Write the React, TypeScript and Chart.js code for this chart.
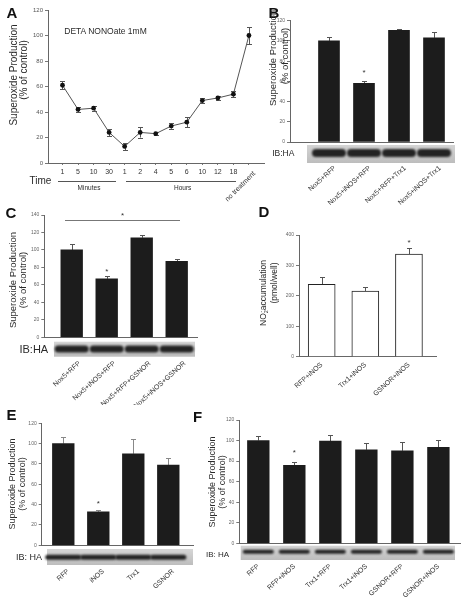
import React, { useEffect, useRef } from 'react';
import { Chart, registerables } from 'chart.js';

Chart.register(...registerables);

const FONT = 'Arial, "Liberation Sans", Helvetica, sans-serif';
Chart.defaults.font.family = FONT;

// ---------------- data ----------------
// Panel A
const timeLabels = ['1', '5', '10', '30', '1', '2', '4', '5', '6', '10', '12', '18', 'no treatment'];
const timeValues = [61, 42, 43, 24, 13, 24, 23, 29, 32, 49, 51, 54, 100];
const timeErrors = [3, 2, 2, 3, 3, 4, 1, 2, 4, 2, 1.5, 2.5, 7];

// Panel B
const bLabels = ['Nox5+RFP', 'Nox5+iNOS+RFP', 'Nox5+RFP+Trx1', 'Nox5+iNOS+Trx1'];
const bValues = [100, 58, 110.5, 103];
const bErrors = [3.5, 2, 1, 5.5];
const bSig = [false, true, false, false];

// Panel C
const cLabels = ['Nox5+RFP', 'Nox5+iNOS+RFP', 'Nox5+RFP+GSNOR', 'Nox5+iNOS+GSNOR'];
const cValues = [100, 67, 114, 87];
const cErrors = [7, 3, 3, 3];
const cSig = [false, true, false, false];

// Panel D
const dLabels = ['RFP+iNOS', 'Trx1+iNOS', 'GSNOR+iNOS'];
const dValues = [238, 216, 337];
const dErrors = [23, 13, 20];
const dSig = [false, false, true];

// Panel E
const eLabels = ['RFP', 'iNOS', 'Trx1', 'GSNOR'];
const eValues = [100, 33, 90, 79];
const eErrors = [6.5, 2, 15, 7];
const eSig = [false, true, false, false];

// Panel F
const fLabels = ['RFP', 'RFP+iNOS', 'Trx1+RFP', 'Trx1+iNOS', 'GSNOR+RFP', 'GSNOR+iNOS'];
const fValues = [100, 76, 99.5, 91, 90, 93.5];
const fErrors = [4, 3, 6, 7, 9, 7.5];
const fSig = [false, true, false, false, false, false];

// ---------------- helpers ----------------
function drawErrors(chart: any, values: number[], errors: number[], both: boolean, color: string, cap: number) {
  const ctx = chart.ctx;
  const ys = chart.scales.y;
  const meta = chart.getDatasetMeta(0);
  ctx.save();
  ctx.strokeStyle = color;
  ctx.lineWidth = 1;
  meta.data.forEach((el: any, i: number) => {
    const x = Math.round(el.x) + 0.5;
    const yT = Math.round(ys.getPixelForValue(values[i] + errors[i])) + 0.5;
    const yB = ys.getPixelForValue(both ? values[i] - errors[i] : values[i]);
    ctx.beginPath();
    ctx.moveTo(x, yT);
    ctx.lineTo(x, yB);
    ctx.moveTo(x - cap, yT);
    ctx.lineTo(x + cap, yT);
    if (both) {
      const yb = Math.round(yB) + 0.5;
      ctx.moveTo(x - cap, yb);
      ctx.lineTo(x + cap, yb);
    }
    ctx.stroke();
  });
  ctx.restore();
}

interface Blot { dxL: number; dxR: number; y0: number; y1: number; band: number; bandH: number; laneW: number; bg: string }
interface Bracket { from: number; to: number; value: number; dl: number; dr: number }
interface BarCfg {
  labels: string[]; values: number[]; errors: number[]; sig: boolean[];
  yMax: number; yStep: number; xMin: number; xMax: number;
  barW: number; fill: string; border?: string; borderW?: number;
  yW: number; xH: number; padTop: number; padRight: number;
  labelPad: number; labelOff: number; rot: number; errColor: string; sigGap: number;
  blot?: Blot; bracket?: Bracket;
}

function barConfig(c: BarCfg): any {
  const plugin = {
    id: 'decor',
    beforeDatasetsDraw(chart: any) {
      drawErrors(chart, c.values, c.errors, false, c.errColor, 2.5);
    },
    afterDraw(chart: any) {
      const ctx = chart.ctx;
      const ys = chart.scales.y;
      const xs = chart.scales.x;
      const ca = chart.chartArea;
      ctx.save();
      ctx.fillStyle = '#333';
      ctx.font = `8px ${FONT}`;
      ctx.textAlign = 'center';
      ctx.textBaseline = 'middle';
      c.sig.forEach((s, i) => {
        if (s) ctx.fillText('*', xs.getPixelForValue(i), ys.getPixelForValue(c.values[i] + c.errors[i]) - c.sigGap);
      });
      if (c.bracket) {
        const b = c.bracket;
        const y = Math.round(ys.getPixelForValue(b.value)) + 0.5;
        const x0 = xs.getPixelForValue(b.from) + b.dl;
        const x1 = xs.getPixelForValue(b.to) + b.dr;
        ctx.strokeStyle = '#777';
        ctx.lineWidth = 1;
        ctx.beginPath();
        ctx.moveTo(x0, y);
        ctx.lineTo(x1, y);
        ctx.stroke();
        ctx.fillText('*', (x0 + x1) / 2, y - 5);
      }
      if (c.blot) {
        const b = c.blot;
        const x0 = ca.left + b.dxL;
        const x1 = ca.right + b.dxR;
        const y0 = ca.bottom + b.y0;
        const y1 = ca.bottom + b.y1;
        const g = ctx.createLinearGradient(0, y0, 0, y1);
        g.addColorStop(0, b.bg);
        g.addColorStop(1, '#bdbdbd');
        ctx.fillStyle = g;
        ctx.fillRect(x0, y0, x1 - x0, y1 - y0);
        ctx.filter = 'blur(0.8px)';
        ctx.fillStyle = '#232323';
        const meta = chart.getDatasetMeta(0);
        meta.data.forEach((el: any) => {
          const w = b.laneW;
          ctx.beginPath();
          ctx.roundRect(el.x - w / 2, ca.bottom + b.band - b.bandH / 2, w, b.bandH, b.bandH / 2);
          ctx.fill();
        });
        ctx.filter = 'none';
      }
      ctx.restore();
    },
  };
  return {
    type: 'bar',
    data: {
      datasets: [{
        data: c.values.map((v, i) => ({ x: i, y: v })),
        backgroundColor: c.fill,
        borderColor: c.border || c.fill,
        borderWidth: c.borderW || 0,
        barThickness: c.barW,
      }],
    },
    options: {
      responsive: false,
      animation: false,
      layout: { padding: { top: c.padTop, right: c.padRight, left: 0, bottom: 0 } },
      plugins: { legend: { display: false }, tooltip: { enabled: false } },
      scales: {
        x: {
          type: 'linear', min: c.xMin, max: c.xMax, offset: false, bounds: 'data',
          afterBuildTicks: (s: any) => { s.ticks = c.labels.map((_, i) => ({ value: i })); },
          afterFit: (s: any) => { s.height = c.xH; s.paddingLeft = 0; s.paddingRight = 0; },
          ticks: {
            autoSkip: false, minRotation: c.rot, maxRotation: c.rot, padding: c.labelPad,
            labelOffset: c.labelOff,
            color: '#333', font: { size: 7, family: FONT },
            callback: (v: any) => c.labels[v] ?? '',
          },
          grid: { display: true, drawOnChartArea: false, drawTicks: false, offset: false },
          border: { display: true, color: '#666', width: 1 },
        },
        y: {
          min: 0, max: c.yMax,
          ticks: { stepSize: c.yStep, font: { size: 5, family: FONT }, color: '#666', padding: 2 },
          grid: { drawOnChartArea: false, tickLength: 3, color: '#777' },
          border: { color: '#666' },
          afterFit: (s: any) => { s.width = c.yW; s.paddingTop = 0; s.paddingBottom = 0; },
        },
      },
    },
    plugins: [plugin],
  };
}

function configA(): any {
  const plugin = {
    id: 'errA',
    beforeDatasetsDraw(chart: any) {
      drawErrors(chart, timeValues, timeErrors, true, '#555', 2.5);
    },
  };
  return {
    type: 'line',
    data: {
      datasets: [{
        data: timeValues.map((v, i) => ({ x: i, y: v })),
        borderColor: '#555', borderWidth: 1,
        pointRadius: 2.4, pointBackgroundColor: '#111', pointBorderColor: '#111', pointBorderWidth: 0,
        tension: 0,
      }],
    },
    options: {
      responsive: false,
      animation: false,
      layout: { padding: { top: 10, right: 1, left: 0, bottom: 0 } },
      plugins: { legend: { display: false }, tooltip: { enabled: false } },
      scales: {
        x: {
          type: 'linear', min: -0.933, max: 12.97, offset: false, bounds: 'data',
          afterBuildTicks: (s: any) => { s.ticks = timeLabels.map((_, i) => ({ value: i })); },
          afterFit: (s: any) => { s.height = 47; s.paddingLeft = 0; s.paddingRight = 0; },
          ticks: {
            autoSkip: false, minRotation: 0, maxRotation: 0, padding: 3,
            color: '#333', font: { size: 7, family: FONT },
            callback: (v: any) => (v < timeLabels.length - 1 ? timeLabels[v] : ''),
          },
          grid: { drawOnChartArea: false, tickLength: 2, color: '#777' },
          border: { color: '#666' },
        },
        y: {
          min: 0, max: 120,
          ticks: { stepSize: 20, font: { size: 6, family: FONT }, color: '#555', padding: 2 },
          grid: { drawOnChartArea: false, tickLength: 3, color: '#777' },
          border: { color: '#666' },
          afterFit: (s: any) => { s.width = 48; s.paddingTop = 0; s.paddingBottom = 0; },
        },
      },
    },
    plugins: [plugin],
  };
}

function ChartBox({ left, top, width, height, make }: { left: number; top: number; width: number; height: number; make: () => any }) {
  const ref = useRef<HTMLCanvasElement | null>(null);
  useEffect(() => {
    const chart = new Chart(ref.current as HTMLCanvasElement, make());
    return () => chart.destroy();
  }, []);
  return <canvas ref={ref} width={width} height={height} style={{ position: 'absolute', left, top, width, height }} />;
}

function T({ x, y, s, t, b, r, c }: { x: number; y: number; s: number; t: React.ReactNode; b?: boolean; r?: number; c?: string }) {
  return (
    <div style={{
      position: 'absolute', left: x, top: y, fontSize: s, fontWeight: b ? 700 : 400, color: c || '#2a2a2a',
      lineHeight: 1, whiteSpace: 'nowrap', fontFamily: FONT,
      transform: `translate(-50%,-50%) rotate(${r || 0}deg)`,
    }}>{t}</div>
  );
}

const cfgB: BarCfg = {
  labels: bLabels, values: bValues, errors: bErrors, sig: bSig,
  yMax: 120, yStep: 20, xMin: -1.114, xMax: 3.543, barW: 21, fill: '#1c1c1c',
  yW: 22, xH: 68, padTop: 20.7, padRight: 9, labelPad: 22, labelOff: 6, rot: 42, errColor: '#555', sigGap: 9,
  blot: { dxL: 17, dxR: 2, y0: 3, y1: 21, band: 11, bandH: 8, laneW: 34, bg: '#d4d4d4' },
};
const cfgC: BarCfg = {
  labels: cLabels, values: cValues, errors: cErrors, sig: cSig,
  yMax: 140, yStep: 20, xMin: -0.783, xMax: 3.58, barW: 21.7, fill: '#1c1c1c',
  yW: 44.3, xH: 67.7, padTop: 10, padRight: 43, labelPad: 22, labelOff: 8, rot: 42, errColor: '#555', sigGap: 4.5,
  blot: { dxL: 9.7, dxR: -2, y0: 4.4, y1: 19.4, band: 11.7, bandH: 7, laneW: 34, bg: '#d6d6d6' },
  bracket: { from: 0, to: 3, value: 134.7, dl: -6.7, dr: 3.3 },
};
const cfgD: BarCfg = {
  labels: dLabels, values: dValues, errors: dErrors, sig: dSig,
  yMax: 400, yStep: 100, xMin: -0.52, xMax: 2.62, barW: 27, fill: '#ffffff', border: '#222', borderW: 1,
  yW: 59, xH: 48.3, padTop: 30, padRight: 26, labelPad: 4, labelOff: 0, rot: 42, errColor: '#555', sigGap: 5,
};
const cfgE: BarCfg = {
  labels: eLabels, values: eValues, errors: eErrors, sig: eSig,
  yMax: 120, yStep: 20, xMin: -0.617, xMax: 3.706, barW: 21.7, fill: '#1c1c1c',
  yW: 41.7, xH: 54.7, padTop: 18.3, padRight: 7, labelPad: 22, labelOff: 5, rot: 42, errColor: '#888', sigGap: 5.5,
  blot: { dxL: 5.3, dxR: 0, y0: 3.7, y1: 19.7, band: 12, bandH: 5, laneW: 36, bg: '#d6d6d6' },
};
const cfgF: BarCfg = {
  labels: fLabels, values: fValues, errors: fErrors, sig: fSig,
  yMax: 120, yStep: 20, xMin: -0.528, xMax: 5.6, barW: 21.7, fill: '#1c1c1c',
  yW: 39.3, xH: 56.7, padTop: 15, padRight: 2, labelPad: 19, labelOff: 0, rot: 42, errColor: '#555', sigGap: 9.5,
  blot: { dxL: 1.4, dxR: -5, y0: 2.4, y1: 16.7, band: 8.4, bandH: 4, laneW: 31, bg: '#d4d4d4' },
};

const NO2 = (
  <>NO<span style={{ display: 'inline-block', fontSize: '0.65em', lineHeight: 0.85, verticalAlign: '-0.35em', textAlign: 'center' }}>-<br />2</span>accumulation</>
);

export default function App() {
  return (
    <div style={{ position: 'fixed', left: 0, top: 0, width: 462, height: 600, background: '#fff', overflow: 'hidden', fontFamily: FONT }}>
      <ChartBox left={0} top={0} width={268} height={210} make={configA} />
      <ChartBox left={268} top={0} width={194} height={210} make={() => barConfig(cfgB)} />
      <ChartBox left={0} top={205} width={240} height={200} make={() => barConfig(cfgC)} />
      <ChartBox left={240} top={205} width={222} height={200} make={() => barConfig(cfgD)} />
      <ChartBox left={0} top={405} width={200} height={195} make={() => barConfig(cfgE)} />
      <ChartBox left={200} top={405} width={262} height={195} make={() => barConfig(cfgF)} />

      {/* panel letters */}
      <T x={12} y={12} s={15} b t="A" c="#111" />
      <T x={274} y={12} s={15} b t="B" c="#111" />
      <T x={11} y={211.5} s={15} b t="C" c="#111" />
      <T x={264} y={211} s={15} b t="D" c="#111" />
      <T x={11.5} y={414} s={15} b t="E" c="#111" />
      <T x={197.5} y={416} s={15} b t="F" c="#111" />

      {/* panel A annotations */}
      <T x={105.5} y={31.3} s={8.5} t="DETA NONOate 1mM" />
      <T x={40.5} y={180.5} s={10} t="Time" />
      <div style={{ position: 'absolute', left: 57.7, top: 181, width: 58, borderTop: '1px solid #555' }} />
      <div style={{ position: 'absolute', left: 126, top: 181, width: 110, borderTop: '1px solid #555' }} />
      <T x={89} y={187.5} s={6.5} t="Minutes" />
      <T x={182.7} y={187.5} s={6.5} t="Hours" />
      <T x={239.5} y={186} s={7} r={-45} t={timeLabels[timeLabels.length - 1]} c="#333" />
      <T x={14} y={75} s={10} r={-90} t="Superoxide Production" />
      <T x={24} y={70} s={10} r={-90} t="(% of control)" />

      {/* panel B */}
      <T x={273.3} y={57.5} s={9.5} r={-90} t="Superoxide Production" />
      <T x={285} y={56} s={9.5} r={-90} t="(% of control)" />
      <T x={283.3} y={153.3} s={8.5} t="IB:HA" />

      {/* panel C */}
      <T x={12.5} y={280} s={9.5} r={-90} t="Superoxide Production" />
      <T x={22.5} y={280} s={9.5} r={-90} t="(% of control)" />
      <T x={33.8} y={349} s={11} t="IB:HA" />

      {/* panel D */}
      <T x={264} y={292.5} s={8.5} r={-90} t={NO2} />
      <T x={274} y={283.3} s={8.5} r={-90} t="(pmol/well)" />

      {/* panel E */}
      <T x={11.7} y={484} s={9} r={-90} t="Superoxide Production" />
      <T x={21.7} y={484} s={9} r={-90} t="(% of control)" />
      <T x={29} y={556.5} s={9} t="IB: HA" />

      {/* panel F */}
      <T x={211.7} y={481.7} s={9} r={-90} t="Superoxide Production" />
      <T x={221.7} y={481.7} s={9} r={-90} t="(% of control)" />
      <T x={217.5} y={554.5} s={8} t="IB: HA" />
    </div>
  );
}
